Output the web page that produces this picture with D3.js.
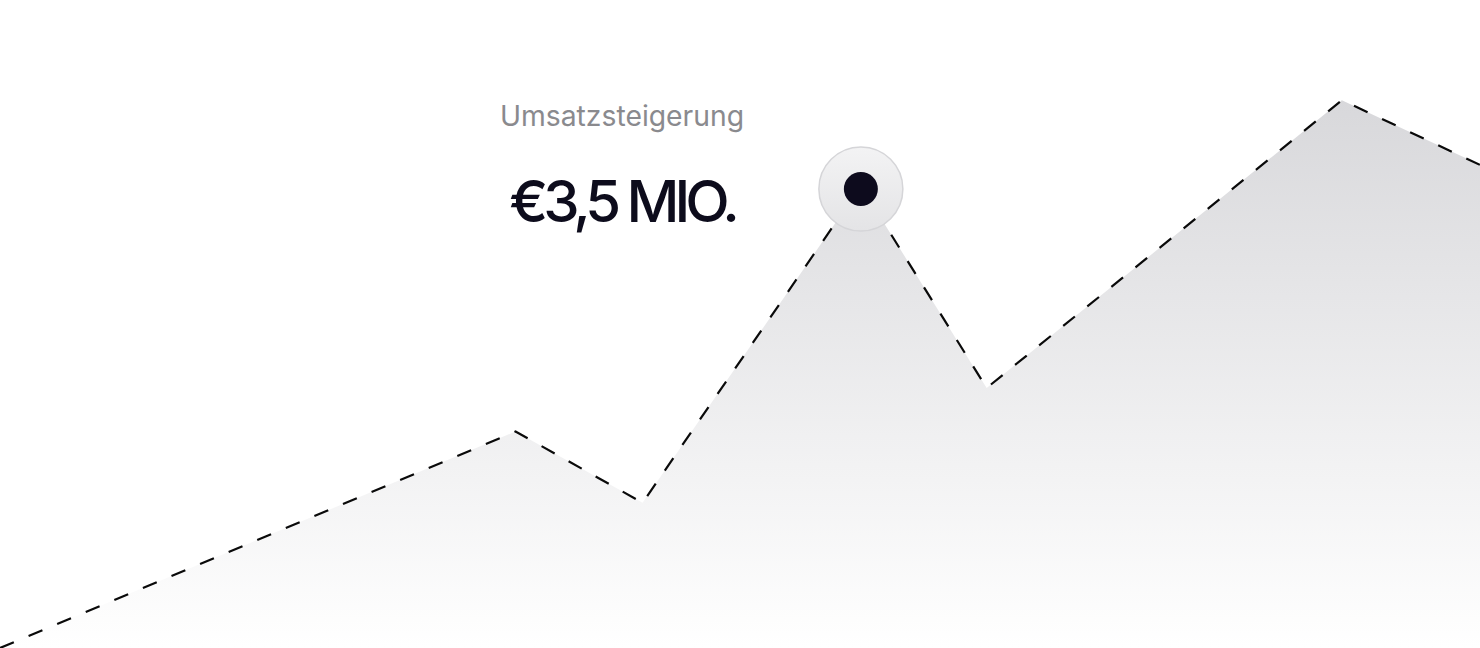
<!DOCTYPE html>
<html>
<head>
<meta charset="utf-8">
<script src="https://cdn.jsdelivr.net/npm/d3@7/dist/d3.min.js"></script>
<style>
  html, body { margin: 0; padding: 0; background: #ffffff; }
  svg { display: block; }
</style>
</head>
<body>
<svg id="chart" width="1480" height="648"></svg>
<script>
// Data (revenue in millions €, x as time position)
const periods = [0, 4.18, 5.21, 6.98, 8.0, 10.88, 12.0];
const revenue = [0, 1.64, 1.10, 3.5, 1.97, 4.15, 3.66];
const highlightIndex = 3;
const labelTitle = "Umsatzsteigerung";
const labelValue = "€3,5 MIO.";

const W = 1480, H = 648;
const svg = d3.select("#chart");

const x = d3.scaleLinear().domain([0, 12]).range([0, W]);
const y = d3.scaleLinear().domain([0, 4.909]).range([H, 0]);

const data = periods.map((p, i) => ({ p, v: revenue[i] }));

const defs = svg.append("defs");
const grad = defs.append("linearGradient")
  .attr("id", "areaGrad")
  .attr("gradientUnits", "userSpaceOnUse")
  .attr("x1", 0).attr("x2", 0)
  .attr("y1", y(d3.max(revenue))).attr("y2", H);
grad.append("stop").attr("offset", "0%").attr("stop-color", "#d8d8db");
grad.append("stop").attr("offset", "100%").attr("stop-color", "#ffffff");

const mg = defs.append("linearGradient")
  .attr("id", "markerGrad")
  .attr("x1", 0).attr("x2", 0).attr("y1", 0).attr("y2", 1);
mg.append("stop").attr("offset", "0%").attr("stop-color", "#f3f3f4");
mg.append("stop").attr("offset", "100%").attr("stop-color", "#e4e4e6");

const area = d3.area()
  .x(d => x(d.p))
  .y0(H)
  .y1(d => y(d.v));

const line = d3.line()
  .x(d => x(d.p))
  .y(d => y(d.v));

svg.append("path")
  .datum(data)
  .attr("d", area)
  .attr("fill", "url(#areaGrad)");

svg.append("path")
  .datum(data)
  .attr("d", line)
  .attr("fill", "none")
  .attr("stroke", "#0a0a0a")
  .attr("stroke-width", 2.2)
  .attr("stroke-dasharray", "15,16");

// Highlight marker
const hp = data[highlightIndex];
const mx = x(hp.p), my = y(hp.v) + 3;
svg.append("circle")
  .attr("cx", mx).attr("cy", my).attr("r", 42)
  .attr("fill", "url(#markerGrad)")
  .attr("stroke", "#d5d5d8")
  .attr("stroke-width", 1.5);
svg.append("circle")
  .attr("cx", mx).attr("cy", my).attr("r", 17)
  .attr("fill", "#0d0b1d");

// Labels
const lx = 622;
svg.append("text")
  .attr("x", lx).attr("y", 126)
  .attr("text-anchor", "middle")
  .attr("font-family", "Inter, 'Noto Sans', sans-serif")
  .attr("font-size", 28.3)
  .attr("font-weight", 400)
  .attr("fill", "#8a8a8e")
  .text(labelTitle);

svg.append("text")
  .attr("x", lx).attr("y", 222)
  .attr("text-anchor", "middle")
  .attr("font-family", "Inter, 'Noto Sans', sans-serif")
  .attr("font-size", 58)
  .attr("font-weight", 500)
  .attr("letter-spacing", "-5px")
  .attr("fill", "#0d0c1c")
  .text(labelValue);
</script>
</body>
</html>
